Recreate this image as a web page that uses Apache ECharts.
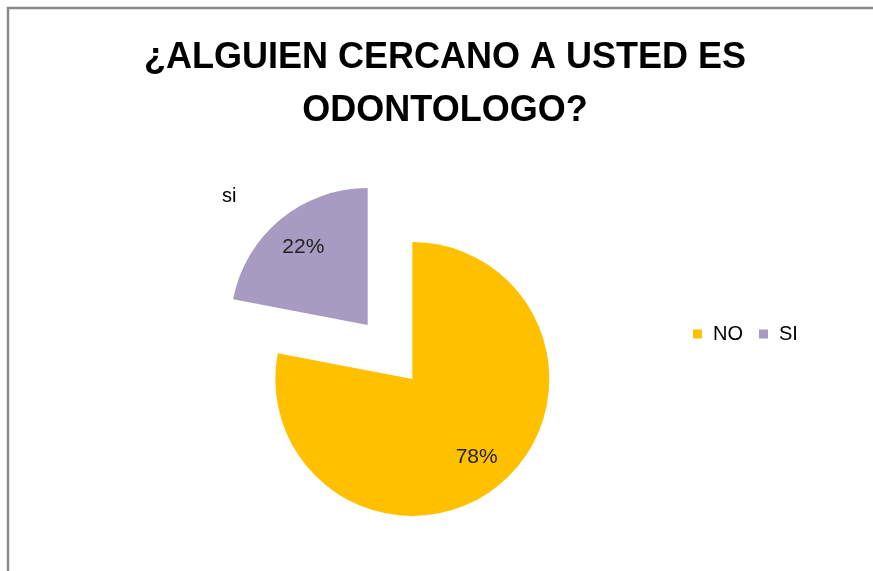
<!DOCTYPE html>
<html>
<head>
<meta charset="utf-8">
<title>¿ALGUIEN CERCANO A USTED ES ODONTOLOGO?</title>
<script src="https://cdn.jsdelivr.net/npm/echarts@6/dist/echarts.min.js"></script>
<style>
  html, body { margin: 0; padding: 0; background: #fff; }
  #chart { width: 873px; height: 571px; }
</style>
</head>
<body>
<div id="chart"></div>
<script>
// datos
var categorias = ['NO', 'SI'];
var valores = [78, 22];
var colores = ['#FFC000', '#A79BC1'];
var etiquetaFuera = ['', 'si'];

var chart = echarts.init(document.getElementById('chart'));

var datos = categorias.map(function (c, i) {
  return { name: c, value: valores[i], selected: true, itemStyle: { color: colores[i] } };
});

var option = {
  backgroundColor: '#fff',
  animation: false,
  title: {
    text: '¿ALGUIEN CERCANO A USTED ES\nODONTOLOGO?',
    left: 445,
    textAlign: 'center',
    top: 32,
    padding: 0,
    textStyle: {
      fontFamily: 'Liberation Sans',
      fontWeight: 'bold',
      fontSize: 36,
      lineHeight: 53,
      color: '#000'
    }
  },
  legend: {
    orient: 'horizontal',
    left: 693,
    top: 324,
    padding: 0,
    itemWidth: 9,
    itemHeight: 9,
    itemGap: 16,
    icon: 'rect',
    textStyle: { fontFamily: 'Liberation Sans', fontSize: 20, color: '#000', padding: [0, 0, 0, 6] },
    data: categorias
  },
  // marco gris (solo arriba e izquierda visibles)
  graphic: [
    {
      type: 'rect',
      shape: { x: 8, y: 8, width: 1000, height: 700 },
      style: { fill: null, stroke: '#8a8a8a', lineWidth: 2.5 },
      silent: true
    },
    {
      type: 'text',
      left: 222,
      top: 186,
      style: { text: etiquetaFuera[1], fontFamily: 'Liberation Sans', fontSize: 20, fill: '#000' }
    }
  ],
  series: [
    {
      name: 'torta',
      type: 'pie',
      center: [390, 352],
      radius: 137,
      startAngle: 90,
      clockwise: true,
      selectedMode: 'multiple',
      selectedOffset: 35,
      label: { show: false },
      labelLine: { show: false },
      emphasis: { scale: false },
      data: datos
    },
    {
      // serie invisible solo para ubicar los porcentajes
      name: 'etiquetas',
      type: 'pie',
      center: [390, 352],
      radius: 196,
      startAngle: 90,
      clockwise: true,
      silent: true,
      selectedMode: 'multiple',
      selectedOffset: 35,
      itemStyle: { color: 'rgba(0,0,0,0)' },
      label: {
        show: true,
        position: 'inside',
        formatter: '{d}%',
        fontFamily: 'Liberation Sans',
        fontSize: 21,
        color: '#222'
      },
      labelLine: { show: false },
      emphasis: { scale: false },
      data: categorias.map(function (c, i) {
        return { name: c, value: valores[i], selected: true };
      })
    }
  ]
};

chart.setOption(option);
</script>
</body>
</html>
